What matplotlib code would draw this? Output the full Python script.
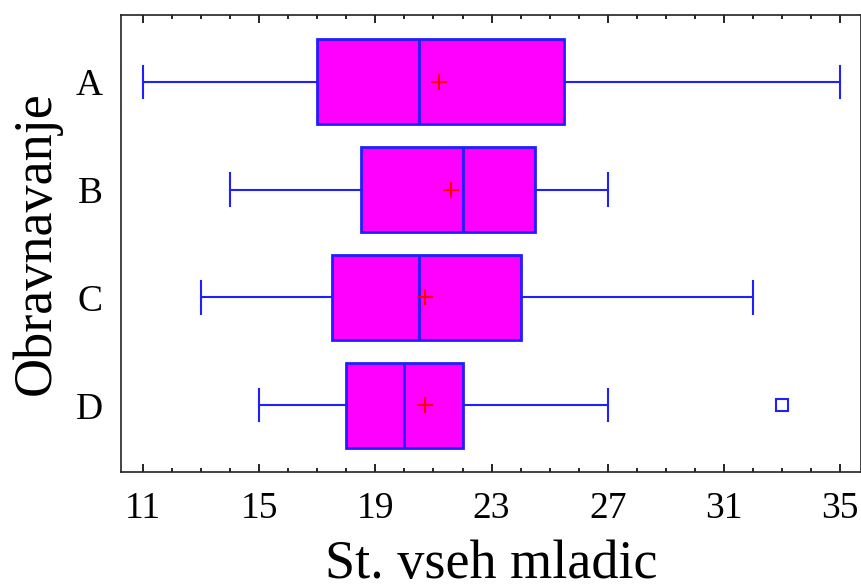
import matplotlib.pyplot as plt
from matplotlib.ticker import MultipleLocator

plt.rcParams['font.family'] = ['Liberation Serif', 'DejaVu Serif']

groups = ["A", "B", "C", "D"]
whislo = [11, 14, 13, 15]
q1 = [17, 18.5, 17.5, 18]
med = [20.5, 22, 20.5, 20]
q3 = [25.5, 24.5, 24, 22]
whishi = [35, 27, 32, 27]
means = [21.2, 21.6, 20.7, 20.7]
fliers = [[], [], [], [33]]

stats = []
for i, g in enumerate(groups):
    stats.append(dict(label=g, whislo=whislo[i], q1=q1[i], med=med[i], q3=q3[i],
                      whishi=whishi[i], mean=means[i], fliers=fliers[i]))

fig = plt.figure(figsize=(8.62, 5.88), dpi=100)
ax = fig.add_axes([0.1404, 0.197, 0.8584, 0.7775])

blue = "#1f1fff"
ax.bxp(stats, positions=[1, 2, 3, 4], vert=False, widths=0.79, patch_artist=True,
       showmeans=True, showcaps=True,
       boxprops=dict(facecolor="#ff00ff", edgecolor=blue, linewidth=2),
       medianprops=dict(color=blue, linewidth=2),
       whiskerprops=dict(color=blue, linewidth=1.5),
       capprops=dict(color=blue, linewidth=1.5),
       meanprops=dict(marker="+", markeredgecolor="red", markersize=11, markeredgewidth=1.5),
       flierprops=dict(marker="s", markerfacecolor="none", markeredgecolor=blue,
                       markersize=8, markeredgewidth=1.5),
       capwidths=0.3)

ax.set_xlim(10.24, 35.72)
ax.set_ylim(4.62, 0.38)
ax.set_xticks(range(11, 36, 4))
ax.xaxis.set_minor_locator(MultipleLocator(1))
ax.tick_params(axis="x", which="both", direction="in", top=True, labelsize=27, pad=14, width=1.2)
ax.tick_params(axis="x", which="major", length=6)
ax.tick_params(axis="x", which="minor", length=3)
ax.tick_params(axis="y", length=0, labelsize=27, pad=13)
for s in ax.spines.values():
    s.set_linewidth(1.2)
    s.set_color("#222222")

ax.set_xlabel("St. vseh mladic", fontsize=39, labelpad=10)
ax.set_ylabel("Obravnavanje", fontsize=39, labelpad=10)

fig.savefig("out.png", dpi=100)
